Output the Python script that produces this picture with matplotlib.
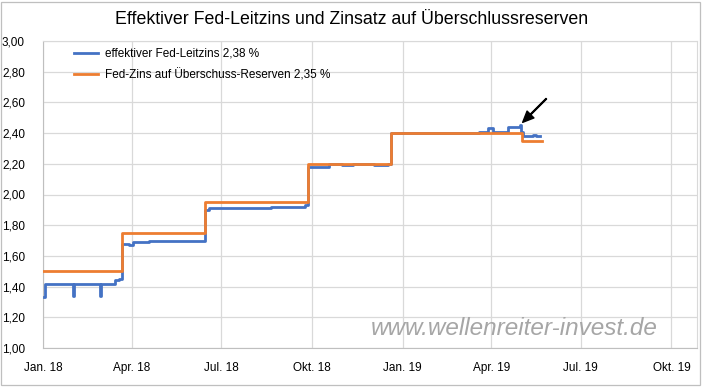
"""
Effektiver Fed-Leitzins vs. Zinssatz auf Überschussreserven (IOER), Jan. 2018 - Mai 2019.
"""
import matplotlib
matplotlib.use("Agg")
import matplotlib.pyplot as plt
import pandas as pd
from matplotlib.patches import Rectangle

plt.rcParams["font.family"] = ["Liberation Sans", "DejaVu Sans"]

# effektiver Fed-Leitzins: Tage mit Wertänderung (Stufen)
effr_dates = ["2018-01-02", "2018-01-03", "2018-01-31", "2018-02-01", "2018-02-28", "2018-03-01",
              "2018-03-15", "2018-03-19", "2018-03-22", "2018-03-29", "2018-04-02", "2018-04-19",
              "2018-06-14", "2018-06-19", "2018-08-20", "2018-09-24", "2018-09-27", "2018-10-18",
              "2018-11-01", "2018-11-12", "2018-12-03", "2018-12-17", "2018-12-20", "2019-03-20",
              "2019-03-29", "2019-04-03", "2019-04-18", "2019-04-30", "2019-05-01", "2019-05-03",
              "2019-05-13", "2019-05-17", "2019-05-21"]
effr_values = [1.33, 1.42, 1.34, 1.42, 1.34, 1.42,
               1.44, 1.45, 1.68, 1.67, 1.69, 1.70,
               1.90, 1.91, 1.92, 1.93, 2.18, 2.20,
               2.19, 2.20, 2.19, 2.20, 2.40, 2.41,
               2.43, 2.41, 2.44, 2.45, 2.41, 2.38,
               2.39, 2.38, 2.38]

# Zins auf Überschussreserven
ioer_dates = ["2018-01-01", "2018-03-22", "2018-06-14", "2018-09-27", "2018-12-20", "2019-05-02", "2019-05-23"]
ioer_values = [1.50, 1.75, 1.95, 2.20, 2.40, 2.35, 2.35]

x_ticks = ["2018-01-01", "2018-04-01", "2018-07-01", "2018-10-01",
           "2019-01-01", "2019-04-01", "2019-07-01", "2019-10-01"]
x_labels = ["Jan. 18", "Apr. 18", "Jul. 18", "Okt. 18", "Jan. 19", "Apr. 19", "Jul. 19", "Okt. 19"]
y_ticks = [1.0, 1.2, 1.4, 1.6, 1.8, 2.0, 2.2, 2.4, 2.6, 2.8, 3.0]
y_labels = ["1,00", "1,20", "1,40", "1,60", "1,80", "2,00", "2,20", "2,40", "2,60", "2,80", "3,00"]

BLUE = "#4472C4"
ORANGE = "#ED7D31"
GRID = "#d9d9d9"

fig = plt.figure(figsize=(7.04, 3.87), dpi=100)
ax = fig.add_axes([43 / 704, 1 - 348 / 387, (697 - 43) / 704, (348 - 41) / 387])

ed = pd.to_datetime(effr_dates)
idt = pd.to_datetime(ioer_dates)
ax.plot(ed, effr_values, drawstyle="steps-post", color=BLUE, lw=2.0,
        label="effektiver Fed-Leitzins 2,38 %", zorder=3)
ax.plot(idt, ioer_values, drawstyle="steps-post", color=ORANGE, lw=2.0,
        label="Fed-Zins auf Überschuss-Reserven 2,35 %", zorder=4)

ax.set_xlim(pd.Timestamp("2018-01-01"), pd.Timestamp("2019-10-27"))
ax.set_ylim(1.0, 3.0)
ax.set_xticks(pd.to_datetime(x_ticks))
ax.set_xticklabels(x_labels, fontsize=8.5)
ax.set_yticks(y_ticks)
ax.set_yticklabels(y_labels, fontsize=8.5)
ax.tick_params(length=0, pad=10)
ax.tick_params(axis="y", pad=13)
ax.grid(color=GRID, lw=0.9)
ax.set_axisbelow(True)
for s in ax.spines.values():
    s.set_color(GRID)
ax.spines["left"].set_color("#bfbfbf")
ax.spines["bottom"].set_color("#bfbfbf")

# Pfeil auf den Höchstwert Ende April
i_max = effr_values.index(max(effr_values))
ax.annotate("", xy=(ed[i_max] + pd.Timedelta(days=3), effr_values[i_max] + 0.02),
            xytext=(17, 17), textcoords="offset points",
            arrowprops=dict(facecolor="black", edgecolor="black", width=0.6,
                            headwidth=7, headlength=8, shrink=0))

ax.legend(loc="upper left", bbox_to_anchor=(0.035, 1.005), frameon=False, fontsize=8.5,
          handlelength=2.0, handletextpad=0.6, labelspacing=0.8, borderpad=0.2)

ax.text(0.94, 0.065, "www.wellenreiter-invest.de", transform=ax.transAxes, ha="right", va="center",
        fontsize=17.5, style="italic", color="#a6a6a6")

fig.text(0.5, 1 - 20 / 387, "Effektiver Fed-Leitzins und Zinsatz auf Überschlussreserven",
         ha="center", va="center", fontsize=12.8)
fig.patches.append(Rectangle((0.001, 0.005), 0.994, 0.99, transform=fig.transFigure,
                             fill=False, edgecolor="#bfbfbf", lw=0.9))

fig.savefig("out.png", dpi=100)
